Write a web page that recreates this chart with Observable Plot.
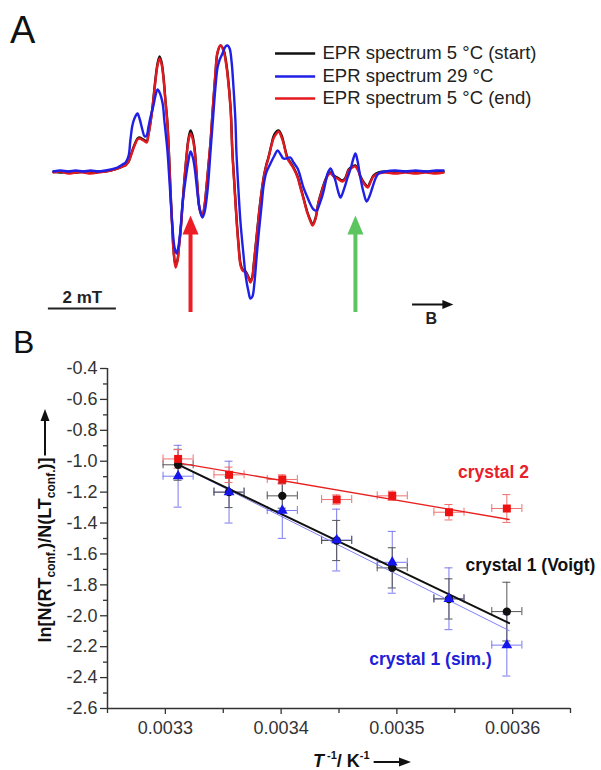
<!DOCTYPE html>
<html><head><meta charset="utf-8">
<script src="https://cdn.jsdelivr.net/npm/d3@7"></script>
<script src="https://cdn.jsdelivr.net/npm/@observablehq/plot@0.6"></script>
<style>
body{margin:0;background:#fff;}
#fig{width:601px;height:770px;position:relative;overflow:hidden;background:#fff;}
#fig svg{display:block;position:absolute;left:0;overflow:visible;}
</style></head><body><div id="fig"></div>
<script>
// ================= Panel A: EPR spectra (field offset in mT, intensity in a.u.) =================
const fieldRB = [0,0.21,0.44,0.65,0.88,1.09,1.32,1.53,1.68,1.88,
2.03,2.12,2.21,2.26,2.35,2.41,2.47,2.53,2.59,2.65,
2.74,2.79,2.85,2.91,3.00,3.06,3.12,3.18,3.24,3.29,
3.35,3.41,3.44,3.50,3.53,3.59,3.65,3.68,3.74,3.79,
3.85,3.91,3.97,4.03,4.09,4.15,4.21,4.24,4.29,4.38,
4.44,4.47,4.53,4.62,4.68,4.76,4.82,4.91,5.00,5.06,
5.12,5.21,5.26,5.32,5.38,5.44,5.50,5.56,5.65,5.74,
5.79,5.85,5.88,5.94,6.03,6.09,6.18,6.26,6.32,6.41,
6.47,6.56,6.62,6.71,6.76,6.88,6.97,7.06,7.18,7.26,
7.35,7.47,7.56,7.62,7.71,7.79,7.88,8.00,8.09,8.15,
8.24,8.35,8.50,8.59,8.68,8.79,8.88,8.97,9.03,9.15,
9.24,9.32,9.41,9.56,9.76,10.06,10.35,10.65,10.94,11.24,
11.47];
// 5 °C (start) – black
const startY = [0,-0.1,0,-0.1,0,-0.1,0,0,0.1,0.3,
0.5,0.7,1.0,1.5,2.4,2.9,3.3,3.4,3.3,3.2,
3.0,3.7,4.9,6.4,9.3,10.8,11.5,10.9,9.3,7.2,
4.9,0.7,-1.8,-6.0,-7.8,-9.4,-8.8,-7.8,-5.8,-3.5,
-0.8,1.5,3.3,4.1,3.6,2.3,-0.3,-1.8,-3.6,-4.5,
-3.5,-2.6,-0.4,3.0,6.0,9.6,11.8,12.6,12.2,11.3,
9.8,6.3,2.1,-1.2,-4.5,-7.2,-9.2,-9.8,-10.0,-10.6,
-11.0,-10.5,-9.6,-7.6,-4.6,-2.8,-0.6,0.7,1.4,2.7,
3.5,4.0,4.1,3.6,3.0,1.4,0.9,0.4,-0.5,-1.5,
-2.6,-4.1,-4.9,-5.3,-4.6,-3.1,-2.0,-0.8,-0.2,-0.1,
-0.4,-0.6,-0.9,-0.6,0.2,0.5,0.6,0.1,-0.5,-1.2,
-1.5,-1.0,-0.4,-0.1,0,-0.1,0,-0.1,0,-0.1,
0];
// 5 °C (end) – red
const endY = [-0.1,0,-0.2,-0.1,-0.1,-0.2,-0.1,0,0.1,0.3,
0.5,0.6,1.0,1.4,2.3,2.8,3.2,3.3,3.2,3.1,
2.9,3.6,4.8,6.3,9.1,10.6,11.3,10.7,9.1,7.1,
4.8,0.6,-1.9,-6.1,-7.9,-9.6,-8.9,-7.9,-5.9,-3.6,
-0.9,1.4,3.1,3.8,3.3,2.1,-0.4,-1.9,-3.6,-4.4,
-3.4,-2.6,-0.4,3.1,6.1,9.8,11.9,12.6,12.1,11.1,
9.6,6.1,1.9,-1.4,-4.7,-7.4,-9.4,-9.9,-10.1,-10.7,
-11.1,-10.6,-9.7,-7.7,-4.7,-2.9,-0.7,0.6,1.3,2.6,
3.3,3.8,4.0,3.4,2.9,1.3,0.8,0.3,-0.6,-1.6,
-2.7,-4.2,-5.0,-5.4,-4.7,-3.2,-2.1,-0.9,-0.3,-0.2,
-0.5,-0.7,-1.0,-0.7,0.1,0.4,0.5,0,-0.6,-1.3,
-1.6,-1.1,-0.5,-0.2,-0.1,-0.2,-0.1,-0.2,-0.1,-0.2,
-0.1];
// 29 °C – blue
const fieldBlue = [0,0.21,0.44,0.65,0.88,1.09,1.32,1.53,1.68,1.88,
2.03,2.12,2.21,2.26,2.32,2.38,2.47,2.53,2.62,2.68,
2.74,2.79,2.85,2.94,3.00,3.06,3.12,3.21,3.26,3.35,
3.41,3.50,3.56,3.62,3.68,3.74,3.79,3.88,3.97,4.03,
4.09,4.15,4.21,4.26,4.32,4.38,4.44,4.53,4.62,4.68,
4.76,4.82,4.88,4.97,5.06,5.12,5.18,5.24,5.29,5.35,
5.38,5.44,5.50,5.59,5.65,5.74,5.79,5.85,5.91,5.97,
6.03,6.12,6.18,6.26,6.38,6.50,6.59,6.68,6.76,6.85,
6.97,7.06,7.18,7.26,7.35,7.47,7.56,7.65,7.74,7.82,
7.91,8.00,8.06,8.15,8.21,8.29,8.38,8.44,8.53,8.65,
8.74,8.82,8.88,8.94,9.03,9.12,9.21,9.29,9.38,9.47,
9.56,9.76,10.06,10.35,10.65,10.94,11.24,11.47];
const warmY = [0,0.1,0,0.1,0,0.1,0,0.1,0.2,0.4,
0.7,0.9,1.6,3.1,4.6,5.3,5.8,5.3,4.1,3.5,
3.6,4.4,5.4,6.6,7.6,8.2,7.9,6.8,5.1,2.1,
-0.9,-5.6,-7.6,-8.2,-7.4,-5.6,-3.4,-0.9,1.1,2.0,
1.5,0.4,-1.4,-2.9,-4.1,-4.6,-4.1,-1.9,2.1,4.8,
8.3,10.3,11.1,11.8,12.5,12.6,12.3,10.9,8.6,5.1,
1.9,-1.9,-5.1,-8.4,-10.4,-12.1,-12.7,-12.5,-11.1,-8.7,
-6.4,-3.4,-1.4,-0.1,0.8,1.6,2.1,1.7,1.3,1.3,
1.4,0.9,0.3,-0.5,-1.6,-2.6,-3.3,-3.8,-3.9,-3.3,
-2.4,-1.1,-0.2,0.3,-0.1,-0.9,-2.1,-2.6,-1.9,-0.6,
0.3,1.3,1.8,1.1,-0.7,-2.1,-3.0,-2.5,-1.6,-0.7,
-0.2,0,0.1,0,0.1,0,0.1,0.1];

const spectraNames = ["EPR spectrum 5 °C (start)", "EPR spectrum 29 °C", "EPR spectrum 5 °C (end)"];
const spectraColors = ["#111111", "#1f1fe6", "#e3191f"];
// annotations of panel A (data units)
const legendY = [11.8, 9.5, 7.3];
const legendX = [6.53, 7.71, 7.91];
const markerFields = [4.03, 8.88];
const markerColors = ["#ee1c24", "#5cc560"];
const markerBase = -14.1, markerTip = -4.4;
const scaleBarMT = 2, scaleBarStart = -0.15, scaleBarY = -13.7;
const fieldArrow = [10.56, 11.76], fieldArrowY = -13.3;

// ================= Panel B: ln ratio vs 1/T =================
const invT = [0.003311, 0.003355, 0.003401, 0.003448, 0.003496, 0.003545, 0.003595];
const invTErr = [0.000013, 0.000013, 0.000013, 0.000013, 0.000013, 0.000013, 0.000013];
const crystal2Y = [-0.985, -1.088, -1.118, -1.248, -1.224, -1.330, -1.306];
const crystal2Err = [0.06, 0.05, 0.03, 0.03, 0.03, 0.05, 0.09];
const voigtY = [-1.023, -1.200, -1.224, -1.513, -1.690, -1.891, -1.973];
const voigtErr = [0.10, 0.10, 0.08, 0.13, 0.13, 0.13, 0.19];
const simY = [-1.097, -1.200, -1.319, -1.510, -1.654, -1.890, -2.190];
const simErr = [0.20, 0.20, 0.18, 0.20, 0.20, 0.20, 0.20];
const fitX = [0.003311, 0.003597];
const crystal2Fit = [-1.01, -1.377];
const voigtFit = [-1.022, -2.048];
const simFit = [-1.022, -2.096];
const yMajorTicks = [-2.6, -2.4, -2.2, -2.0, -1.8, -1.6, -1.4, -1.2, -1.0, -0.8, -0.6, -0.4];
const yMinorTicks = [-2.5, -2.3, -2.1, -1.9, -1.7, -1.5, -1.3, -1.1, -0.9, -0.7, -0.5];
const xMajorTicks = [0.0033, 0.0034, 0.0035, 0.0036];
const xMinorTicks = [0.00325, 0.00335, 0.00345, 0.00355, 0.00365];
const seriesNames = ["crystal 2", "crystal 1 (Voigt)", "crystal 1 (sim.)"];
const labelX = [0.0035835, 0.0036154, 0.003529];
const labelY = [-1.073, -1.675, -2.283];

// ================= drawing =================
const FONT = "'Liberation Sans', Arial, Helvetica, sans-serif";
const fig = document.getElementById("fig");
const rows = (xs, ys) => xs.map((x, i) => ({x, y: ys[i]}));

const headUp = {draw(c) { c.moveTo(0, 0); c.lineTo(-8, 19); c.lineTo(8, 19); c.closePath(); }};
const headRight = {draw(c) { c.moveTo(0, 0); c.lineTo(-11, -4.5); c.lineTo(-11, 4.5); c.closePath(); }};

const spectra = [
  {xs: fieldRB, ys: startY, color: spectraColors[0]},
  {xs: fieldRB, ys: endY, color: spectraColors[2]},
  {xs: fieldBlue, ys: warmY, color: spectraColors[1]}
];

const chartA = Plot.plot({
  width: 601, height: 320, margin: 0,
  style: {fontFamily: FONT, background: "transparent", overflow: "visible"},
  x: {domain: [0, 11.47], range: [53, 443], axis: null},
  y: {domain: [-14.9, 17.1], range: [320, 0], axis: null},
  marks: [
    ...spectra.map(s => Plot.line(rows(s.xs, s.ys), {x: "x", y: "y", stroke: s.color, strokeWidth: 2.4, curve: "catmull-rom"})),
    ...markerFields.map((f, i) => Plot.ruleX([f], {y1: markerBase, y2: markerTip - 1.6, stroke: markerColors[i], strokeWidth: 4})),
    ...markerFields.map((f, i) => Plot.dot([f], {x: d => d, y: markerTip, symbol: headUp, r: 5, fill: markerColors[i]})),
    Plot.ruleY([scaleBarY], {x1: scaleBarStart, x2: scaleBarStart + scaleBarMT, stroke: "#222", strokeWidth: 2}),
    Plot.text(["2 mT"], {x: scaleBarStart + scaleBarMT / 2, y: scaleBarY + 1.1, text: d => d, fontSize: 17, fontWeight: "bold", fill: "#222"}),
    Plot.ruleY([fieldArrowY], {x1: fieldArrow[0], x2: fieldArrow[1] - 0.25, stroke: "#111", strokeWidth: 2}),
    Plot.dot([fieldArrowY], {x: fieldArrow[1], y: d => d, symbol: headRight, r: 5, fill: "#111"}),
    Plot.text(["B"], {x: (fieldArrow[0] + fieldArrow[1]) / 2 - 0.05, y: fieldArrowY - 1.45, text: d => d, fontSize: 16, fontWeight: "bold", fill: "#222"}),
    ...spectraNames.map((n, i) => Plot.ruleY([legendY[i]], {x1: legendX[0], x2: legendX[1], stroke: spectraColors[i], strokeWidth: 2.6})),
    ...spectraNames.map((n, i) => Plot.text([n], {x: legendX[2], y: legendY[i], text: d => d, textAnchor: "start", fontSize: 18.5, fill: "#222"}))
  ]
});
chartA.style.top = "0px";
fig.appendChild(chartA);
d3.select(chartA).append("text").attr("x", 10).attr("y", 43).attr("font-family", FONT)
  .attr("text-anchor", "start").attr("font-size", 38).attr("fill", "#111").text("A");

const seriesB = [
  {ys: crystal2Y, errs: crystal2Err, fit: crystal2Fit, color: "#ee1111", err: "#f07070", fitColor: "#e82020", fitW: 1.3, symbol: "square", r: 4.5, label: "#e8202a"},
  {ys: voigtY, errs: voigtErr, fit: voigtFit, color: "#111111", err: "#555555", fitColor: "#111111", fitW: 2, symbol: "circle", r: 4.2, label: "#111111"},
  {ys: simY, errs: simErr, fit: simFit, color: "#1515ee", err: "#7a7af0", fitColor: "#7f7ff5", fitW: 1, symbol: "triangle", r: 4, label: "#2020d8"}
];
const ptsB = s => invT.map((x, i) => ({x, y: s.ys[i], ey: s.errs[i], ex: invTErr[i]}));
const errMarks = s => {
  const d = ptsB(s);
  const o = {stroke: s.err, strokeWidth: 1};
  return [
    Plot.ruleX(d, {x: "x", y1: p => p.y - p.ey, y2: p => p.y + p.ey, ...o}),
    Plot.ruleY(d, {y: p => p.y - p.ey, x1: "x", x2: "x", insetLeft: -4, insetRight: -4, ...o}),
    Plot.ruleY(d, {y: p => p.y + p.ey, x1: "x", x2: "x", insetLeft: -4, insetRight: -4, ...o}),
    Plot.ruleY(d, {y: "y", x1: p => p.x - p.ex, x2: p => p.x + p.ex, ...o}),
    Plot.ruleX(d, {x: p => p.x - p.ex, y1: "y", y2: "y", insetTop: -4, insetBottom: -4, ...o}),
    Plot.ruleX(d, {x: p => p.x + p.ex, y1: "y", y2: "y", insetTop: -4, insetBottom: -4, ...o})
  ];
};
const order = [2, 1, 0];
const chartB = Plot.plot({
  width: 601, height: 450,
  marginLeft: 107, marginRight: 31, marginTop: 48, marginBottom: 62,
  style: {fontFamily: FONT, fontSize: "18px", color: "#333", background: "transparent", overflow: "visible"},
  x: {domain: [0.00325, 0.00365], axis: null},
  y: {domain: [-2.6, -0.4], axis: null},
  marks: [
    Plot.axisY(yMajorTicks, {tickSize: 7, tickPadding: 3, tickFormat: d => d.toFixed(1), label: null, strokeWidth: 1.3, fontSize: 18}),
    Plot.axisY(yMinorTicks, {tickSize: 4, tickFormat: () => "", label: null, strokeWidth: 1.3}),
    Plot.axisX(xMajorTicks, {tickSize: 6, tickPadding: 7, tickFormat: d => d.toFixed(4), label: null, strokeWidth: 1.3, fontSize: 18}),
    Plot.axisX(xMinorTicks, {tickSize: 5, tickFormat: () => "", label: null, strokeWidth: 1.3}),
    Plot.ruleX([0.00325], {stroke: "#333", strokeWidth: 1.5}),
    Plot.ruleY([-2.6], {stroke: "#333", strokeWidth: 1.5}),
    ...order.flatMap(i => errMarks(seriesB[i])),
    ...order.map(i => Plot.line(rows(fitX, seriesB[i].fit), {x: "x", y: "y", stroke: seriesB[i].fitColor, strokeWidth: seriesB[i].fitW})),
    ...[1, 2, 0].map(i => Plot.dot(ptsB(seriesB[i]), {x: "x", y: "y", symbol: seriesB[i].symbol, r: seriesB[i].r, fill: seriesB[i].color})),
    ...seriesNames.map((n, i) => Plot.text([n], {x: labelX[i], y: labelY[i], text: d => d, fontSize: 17.5, fontWeight: "bold", fill: seriesB[i].label}))
  ]
});
chartB.style.top = "320px";
fig.appendChild(chartB);

const gB = d3.select(chartB);
gB.append("text").attr("x", 13).attr("y", 33).attr("font-family", FONT)
  .attr("text-anchor", "start").attr("font-size", 32).attr("fill", "#111").text("B");

// y axis title with subscripts and arrow
const yCenter = 230, yBase = 51;
const yl = gB.append("g").attr("transform", `translate(${yBase},${yCenter}) rotate(-90)`);
const yt = yl.append("text").attr("text-anchor", "middle").attr("font-family", FONT)
  .attr("font-weight", "bold").attr("font-size", 18).attr("fill", "#111");
yt.append("tspan").text("ln[N(RT");
yt.append("tspan").attr("font-size", 12).attr("dy", 4).text("conf.");
yt.append("tspan").attr("dy", -4).text(")/N(LT");
yt.append("tspan").attr("font-size", 12).attr("dy", 4).text("conf.");
yt.append("tspan").attr("dy", -4).text(")]");
const yLen = yt.node().getComputedTextLength();
const yTop = yCenter - yLen / 2 - 2;
gB.append("line").attr("x1", 45).attr("x2", 45).attr("y1", yTop).attr("y2", 98)
  .attr("stroke", "#111").attr("stroke-width", 2);
gB.append("path").attr("d", `M45,89 L40.5,101 L49.5,101 Z`).attr("fill", "#111");

// x axis title
const xt = gB.append("text").attr("x", 313).attr("y", 447).attr("font-family", FONT)
  .attr("text-anchor", "start").attr("font-weight", "bold").attr("font-size", 18).attr("fill", "#111");
xt.append("tspan").attr("font-style", "italic").text("T");
xt.append("tspan").attr("font-size", 11).attr("dy", -8).text(" -1");
xt.append("tspan").attr("dy", 8).text("/ K");
xt.append("tspan").attr("font-size", 11).attr("dy", -8).text("-1");
const xEnd = 313 + xt.node().getComputedTextLength();
gB.append("line").attr("x1", xEnd + 4).attr("x2", 401).attr("y1", 442).attr("y2", 442)
  .attr("stroke", "#111").attr("stroke-width", 2);
gB.append("path").attr("d", `M411,442 L399,437.5 L399,446.5 Z`).attr("fill", "#111");
</script>
</body></html>
